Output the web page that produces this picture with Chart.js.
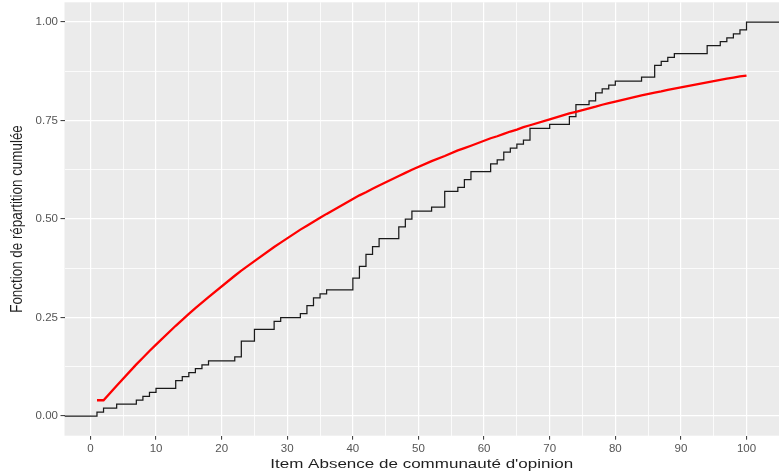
<!DOCTYPE html>
<html>
<head>
<meta charset="utf-8">
<script src="https://cdn.jsdelivr.net/npm/chart.js@4.4.1/dist/chart.umd.min.js"></script>
<style>
  html, body { margin: 0; padding: 0; background: #ffffff; }
  canvas { display: block; }
</style>
</head>
<body>
<canvas id="chart" width="782" height="473"></canvas>
<script>
// Distinct item scores where the empirical CDF jumps
const itemValues = [1, 2, 4, 7, 8, 9, 10, 13, 14, 15, 16, 17, 18, 22, 23, 25, 28, 29, 32, 33, 34, 35, 36,
  40, 41, 42, 43, 44, 47, 48, 49, 52, 54, 56, 57, 58, 61, 62, 63, 64, 65, 66, 67, 70, 73, 74, 76, 77, 78,
  79, 80, 84, 86, 87, 88, 89, 94, 96, 97, 98, 99, 100];

// Empirical cumulative proportion after each score
const empiricalCdf = [0.01, 0.02, 0.03, 0.04, 0.05, 0.06, 0.07, 0.09, 0.10, 0.11, 0.12, 0.13, 0.14, 0.15,
  0.19, 0.22, 0.24, 0.25, 0.26, 0.28, 0.30, 0.31, 0.32, 0.35, 0.38, 0.41, 0.43, 0.45, 0.48, 0.50, 0.52,
  0.53, 0.57, 0.58, 0.60, 0.62, 0.64, 0.65, 0.67, 0.68, 0.69, 0.70, 0.73, 0.74, 0.76, 0.79, 0.80, 0.82,
  0.83, 0.84, 0.85, 0.86, 0.89, 0.90, 0.91, 0.92, 0.94, 0.95, 0.96, 0.97, 0.98, 1.00];

// Theoretical (fitted) CDF at the same scores
const fittedCdf = [0.040, 0.040, 0.077, 0.131, 0.148, 0.165, 0.181, 0.229, 0.244, 0.259, 0.274, 0.288,
  0.302, 0.356, 0.369, 0.393, 0.429, 0.440, 0.473, 0.483, 0.493, 0.503, 0.513, 0.551, 0.560, 0.568,
  0.577, 0.585, 0.609, 0.617, 0.625, 0.647, 0.660, 0.674, 0.680, 0.686, 0.705, 0.710, 0.716, 0.722,
  0.727, 0.733, 0.738, 0.753, 0.768, 0.772, 0.781, 0.785, 0.790, 0.794, 0.798, 0.814, 0.821, 0.824,
  0.828, 0.831, 0.847, 0.853, 0.856, 0.859, 0.862, 0.864];

const xTickValues = [0, 10, 20, 30, 40, 50, 60, 70, 80, 90, 100];
const yTickValues = [0, 0.25, 0.5, 0.75, 1];
const xLimits = [-3.95, 104.95];
const yLimits = [-0.05, 1.05];

const xTitle = "Item Absence de communauté d'opinion";
const yTitle = "Fonction de répartition cumulée";

// minor grid positions sit halfway between major ticks
function withMinor(major) {
  const out = [];
  major.forEach((v, i) => {
    out.push(v);
    if (i < major.length - 1) out.push((v + major[i + 1]) / 2);
  });
  return out;
}
const xGrid = withMinor(xTickValues);
const yGrid = withMinor(yTickValues);
const isMajor = (list, v) => list.some(t => Math.abs(t - v) < 1e-9);

const stepPoints = [{ x: xLimits[0], y: 0 }]
  .concat(itemValues.map((x, i) => ({ x, y: empiricalCdf[i] })))
  .concat([{ x: xLimits[1], y: empiricalCdf[empiricalCdf.length - 1] }]);
const fitPoints = itemValues.map((x, i) => ({ x, y: fittedCdf[i] }));

const FONT = "'Liberation Sans', Arial, sans-serif";

// grey panel behind the grid
const panelBackground = {
  id: 'panelBackground',
  beforeDraw(chart) {
    const { ctx, chartArea: a } = chart;
    ctx.save();
    ctx.fillStyle = '#EBEBEB';
    ctx.fillRect(a.left, a.top, a.right - a.left, a.bottom - a.top);
    ctx.restore();
  }
};

// axis titles, slightly widened horizontally
const axisTitles = {
  id: 'axisTitles',
  afterDraw(chart) {
    const { ctx, chartArea: a } = chart;
    ctx.save();
    ctx.fillStyle = '#1f1f1f';
    ctx.font = '13.4px ' + FONT;
    ctx.textAlign = 'center';
    ctx.textBaseline = 'alphabetic';
    ctx.save();
    ctx.translate((a.left + a.right) / 2, 468);
    ctx.scale(1.27, 1);
    ctx.fillText(xTitle, 0, 0);
    ctx.restore();
    ctx.save();
    ctx.translate(21.7, (a.top + a.bottom) / 2);
    ctx.scale(1.27, 1);
    ctx.rotate(-Math.PI / 2);
    ctx.fillText(yTitle, 0, 0);
    ctx.restore();
    ctx.restore();
  }
};

new Chart(document.getElementById('chart'), {
  type: 'line',
  data: {
    datasets: [
      {
        label: 'empirique',
        data: stepPoints,
        stepped: 'before',
        borderColor: '#1a1a1a',
        borderWidth: 1.25,
        pointRadius: 0,
        fill: false,
        order: 2
      },
      {
        label: 'théorique',
        data: fitPoints,
        borderColor: '#FF0000',
        borderWidth: 2.3,
        pointRadius: 0,
        tension: 0,
        fill: false,
        order: 1
      }
    ]
  },
  options: {
    responsive: false,
    animation: false,
    devicePixelRatio: 1,
    layout: { padding: { top: 2.3, right: 3, left: 0, bottom: 0 } },
    plugins: { legend: { display: false }, tooltip: { enabled: false } },
    scales: {
      x: {
        type: 'linear',
        min: xLimits[0],
        max: xLimits[1],
        afterBuildTicks: s => { s.ticks = xGrid.map(v => ({ value: v })); },
        afterFit: s => { s.height = 37.3; s.paddingLeft = 0; s.paddingRight = 0; },
        border: { display: false },
        grid: {
          color: '#FFFFFF',
          lineWidth: c => (c.tick && isMajor(xTickValues, c.tick.value) ? 1.2 : 0.8),
          tickColor: c => (c.tick && isMajor(xTickValues, c.tick.value) ? '#333333' : 'rgba(0,0,0,0)'),
          tickLength: 4,
          tickWidth: 1
        },
        ticks: {
          autoSkip: false,
          maxRotation: 0,
          padding: 2.5,
          color: '#555555',
          font: { family: FONT, size: 11.5 },
          callback: v => (isMajor(xTickValues, v) ? String(v) : '')
        }
      },
      y: {
        type: 'linear',
        min: yLimits[0],
        max: yLimits[1],
        afterBuildTicks: s => { s.ticks = yGrid.map(v => ({ value: v })); },
        afterFit: s => { s.width = 64.5; s.paddingTop = 0; s.paddingBottom = 0; },
        border: { display: false },
        grid: {
          color: '#FFFFFF',
          lineWidth: c => (c.tick && isMajor(yTickValues, c.tick.value) ? 1.2 : 0.8),
          tickColor: c => (c.tick && isMajor(yTickValues, c.tick.value) ? '#333333' : 'rgba(0,0,0,0)'),
          tickLength: 4,
          tickWidth: 1
        },
        ticks: {
          autoSkip: false,
          padding: 2.5,
          color: '#555555',
          font: { family: FONT, size: 11.5 },
          callback: v => (isMajor(yTickValues, v) ? v.toFixed(2) : '')
        }
      }
    }
  },
  plugins: [panelBackground, axisTitles]
});
</script>
</body>
</html>
